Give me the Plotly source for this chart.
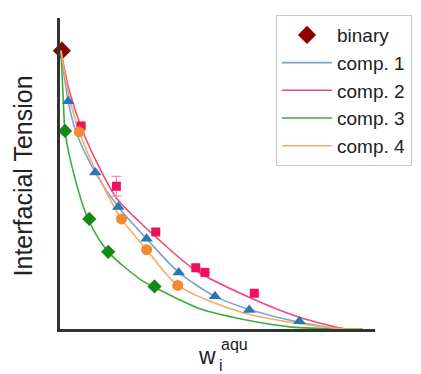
import plotly.graph_objects as go

# Binary point
bin_x = [0.006]
bin_y = [0.895]

# Measured points per composition
c1_x = [0.026, 0.112, 0.185, 0.275, 0.377, 0.492, 0.601, 0.760]
c1_y = [0.732, 0.503, 0.392, 0.290, 0.182, 0.105, 0.061, 0.025]
c2_x = [0.067, 0.179, 0.304, 0.431, 0.460, 0.617]
c2_y = [0.653, 0.459, 0.312, 0.197, 0.182, 0.115]
c2_err = [0.0, 0.032, 0.0, 0.0, 0.0, 0.0]
c3_x = [0.016, 0.093, 0.153, 0.300]
c3_y = [0.637, 0.354, 0.248, 0.137]
c4_x = [0.061, 0.195, 0.275, 0.374]
c4_y = [0.634, 0.354, 0.255, 0.140]

# Fitted curves
f1_x = [0.003, 0.026, 0.051, 0.112, 0.185, 0.275, 0.377, 0.492, 0.607, 0.760, 0.911, 0.96]
f1_y = [0.895, 0.732, 0.634, 0.503, 0.392, 0.290, 0.182, 0.105, 0.061, 0.022, 0.0, 0.0]
f2_x = [0.003, 0.029, 0.073, 0.128, 0.182, 0.256, 0.304, 0.431, 0.607, 0.760, 0.911, 0.96]
f2_y = [0.895, 0.768, 0.634, 0.513, 0.417, 0.341, 0.296, 0.188, 0.099, 0.038, 0.0, 0.0]
f3_x = [0.003, 0.010, 0.016, 0.038, 0.089, 0.153, 0.256, 0.300, 0.447, 0.575, 0.735, 0.911, 0.96]
f3_y = [0.895, 0.745, 0.637, 0.522, 0.354, 0.248, 0.159, 0.134, 0.064, 0.032, 0.006, 0.0, 0.0]
f4_x = [0.003, 0.026, 0.061, 0.128, 0.195, 0.275, 0.374, 0.575, 0.767, 0.911, 0.96]
f4_y = [0.895, 0.761, 0.634, 0.478, 0.354, 0.255, 0.140, 0.054, 0.016, 0.0, 0.0]

names = ["comp. 1", "comp. 2", "comp. 3", "comp. 4"]
line_colors = ["#7aa3cf", "#f0487a", "#3cad3c", "#f7aa66"]
mark_colors = ["#2878b8", "#f01058", "#148a14", "#f28a30"]

fig = go.Figure()
fig.add_trace(go.Scatter(x=bin_x, y=bin_y, mode="markers", name="binary",
                         marker=dict(symbol="diamond", size=14, color="#8b0000"),
                         cliponaxis=False))
fits = [(f1_x, f1_y), (f2_x, f2_y), (f3_x, f3_y), (f4_x, f4_y)]
for (fx, fy), n, lc in zip(fits, names, line_colors):
    fig.add_trace(go.Scatter(x=fx, y=fy, mode="lines", name=n,
                             line=dict(color=lc, width=1.6, shape="spline", smoothing=0.8)))

pts = [(c1_x, c1_y, "triangle-up", 11), (c2_x, c2_y, "square", 9),
       (c3_x, c3_y, "diamond", 11), (c4_x, c4_y, "circle", 11)]
for i, ((px, py, sym, sz), mc) in enumerate(zip(pts, mark_colors)):
    kw = {}
    if i == 1:
        kw["error_y"] = dict(type="data", array=c2_err, color="#f490aa", thickness=1.2, width=5)
    fig.add_trace(go.Scatter(x=px, y=py, mode="markers", showlegend=False,
                             marker=dict(symbol=sym, size=sz, color=mc), cliponaxis=False, **kw))

# page body has an 8px margin; figure sized/offset to compensate
W, H = 413, 366
L, T, R, B = 52, 7, 46, 45
pw, ph = W - L - R, H - T - B

def px_x(x):
    return (x - 8 - L) / pw

def px_y(y):
    return (H - B - (y - 8)) / ph

fig.update_layout(
    width=W, height=H,
    margin=dict(l=L, r=R, t=T, b=B),
    paper_bgcolor="white", plot_bgcolor="white",
    font=dict(family="Liberation Sans, Arial, sans-serif", color="#222"),
    xaxis=dict(range=[0, 1], showgrid=False, zeroline=False, showticklabels=False, ticks="",
               showline=True, linecolor="#333", linewidth=2.5),
    yaxis=dict(range=[0, 1], showgrid=False, zeroline=False, showticklabels=False, ticks="",
               showline=True, linecolor="#333", linewidth=2.5),
    legend=dict(x=px_x(276), y=px_y(12), xanchor="left", yanchor="top",
                bordercolor="#c8c8c8", borderwidth=1, bgcolor="white",
                font=dict(size=19, color="#222"), itemwidth=50, tracegroupgap=0),
    showlegend=True,
)
fig.add_annotation(text="Interfacial Tension", xref="paper", yref="paper",
                   x=px_x(23), y=px_y(175), xanchor="center", yanchor="middle", textangle=-90,
                   showarrow=False, font=dict(size=25, color="#222"))
fig.add_annotation(text="w", xref="paper", yref="paper", x=px_x(207), y=px_y(356),
                   xanchor="center", yanchor="middle", showarrow=False, font=dict(size=23, color="#222"))
fig.add_annotation(text="aqu", xref="paper", yref="paper", x=px_x(219), y=px_y(345),
                   xanchor="left", yanchor="middle", showarrow=False, font=dict(size=16, color="#222"))
fig.add_annotation(text="i", xref="paper", yref="paper", x=px_x(217), y=px_y(366),
                   xanchor="left", yanchor="middle", showarrow=False, font=dict(size=16, color="#222"))

fig.write_html("out.html")
